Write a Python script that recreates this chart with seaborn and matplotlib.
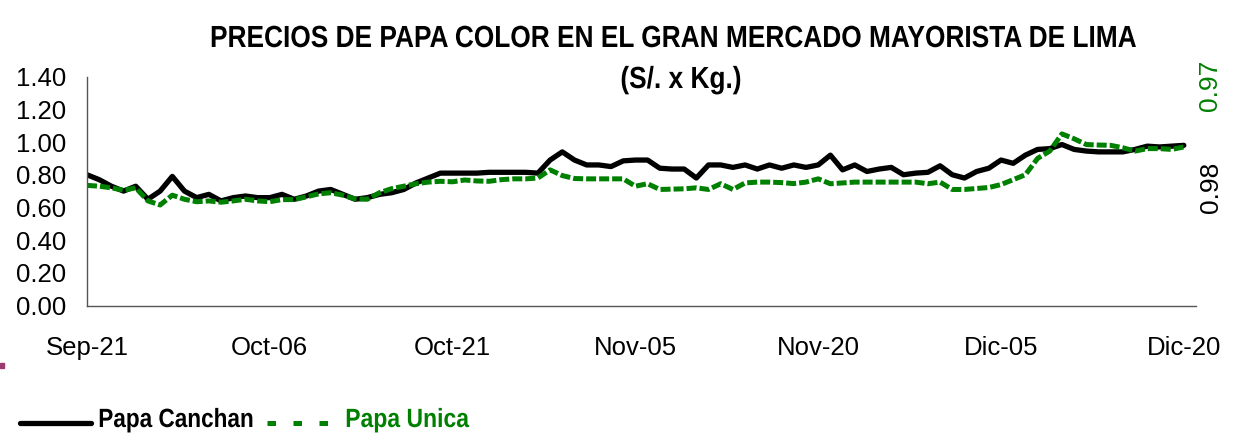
import numpy as np
import pandas as pd
import matplotlib
matplotlib.use("Agg")
import matplotlib.pyplot as plt
from matplotlib.lines import Line2D
from matplotlib.patches import Rectangle
from matplotlib.patheffects import AbstractPathEffect
from matplotlib.transforms import Affine2D
import seaborn as sns

# ---------------- data ----------------
days = list(range(91))  # Sep-21 .. Dic-20
canchan = [0.80, 0.77, 0.73, 0.70, 0.73, 0.65, 0.70, 0.79, 0.70, 0.66,
           0.68, 0.64, 0.66, 0.67, 0.66, 0.66, 0.68, 0.65, 0.67, 0.70,
           0.71, 0.68, 0.65, 0.66, 0.68, 0.69, 0.71, 0.75, 0.78, 0.81,
           0.81, 0.81, 0.81, 0.815, 0.815, 0.815, 0.815, 0.81, 0.89, 0.94,
           0.89, 0.86, 0.86, 0.85, 0.885, 0.89, 0.89, 0.84, 0.835, 0.835,
           0.78, 0.86, 0.86, 0.845, 0.86, 0.835, 0.86, 0.84, 0.86, 0.845,
           0.86, 0.92, 0.83, 0.86, 0.82, 0.835, 0.845, 0.80, 0.81, 0.815,
           0.855, 0.80, 0.78, 0.82, 0.84, 0.89, 0.87, 0.92, 0.955, 0.96,
           0.985, 0.955, 0.945, 0.94, 0.94, 0.94, 0.955, 0.975, 0.97, 0.975,
           0.98]
unica = [0.735, 0.73, 0.72, 0.705, 0.72, 0.64, 0.615, 0.675, 0.65, 0.635,
         0.64, 0.632, 0.64, 0.65, 0.64, 0.635, 0.648, 0.648, 0.665, 0.683,
         0.69, 0.675, 0.652, 0.65, 0.69, 0.715, 0.73, 0.745, 0.755, 0.76,
         0.757, 0.768, 0.762, 0.76, 0.77, 0.775, 0.775, 0.78, 0.83, 0.795,
         0.777, 0.775, 0.775, 0.775, 0.775, 0.73, 0.745, 0.71, 0.712, 0.714,
         0.72, 0.71, 0.745, 0.71, 0.75, 0.755, 0.755, 0.752, 0.746, 0.755,
         0.775, 0.745, 0.75, 0.755, 0.755, 0.755, 0.755, 0.755, 0.755, 0.745,
         0.755, 0.71, 0.71, 0.716, 0.722, 0.74, 0.77, 0.80, 0.90, 0.945,
         1.05, 1.02, 0.985, 0.982, 0.98, 0.965, 0.945, 0.96, 0.96, 0.955,
         0.97]
tick_days = [0, 15, 30, 45, 60, 75, 90]
tick_labels = ["Sep-21", "Oct-06", "Oct-21", "Nov-05", "Nov-20", "Dic-05", "Dic-20"]
series_names = ["Papa Canchan", "Papa Unica"]
y_ticks = [0.0, 0.2, 0.4, 0.6, 0.8, 1.0, 1.2, 1.4]

BLACK = "#000000"
GREEN = "#008000"
W, H = 1240, 434


class Squeeze(AbstractPathEffect):
    """Horizontally condense text (emulates a narrow face)."""
    def __init__(self, sx, anchor="center"):
        super().__init__()
        self.sx = sx
        self.anchor = anchor

    def draw_path(self, renderer, gc, tpath, affine, rgbFace=None):
        ext = tpath.get_extents(affine)
        if self.anchor == "left":
            x0 = ext.x0
        elif self.anchor == "right":
            x0 = ext.x1
        else:
            x0 = 0.5 * (ext.x0 + ext.x1)
        aff = affine + Affine2D().translate(-x0, 0).scale(self.sx, 1.0).translate(x0, 0)
        renderer.draw_path(gc, tpath, aff, rgbFace)


sns.set_style("white")
plt.rcParams["font.family"] = ["Liberation Sans", "DejaVu Sans"]
plt.rcParams["text.color"] = "black"

df = pd.DataFrame({"day": days, series_names[0]: canchan, series_names[1]: unica})

fig = plt.figure(figsize=(W / 100, H / 100), dpi=100)
ax = fig.add_axes([87 / W, 1 - 305.5 / H, (1196 - 87) / W, (305.5 - 76.7) / H])

sns.lineplot(data=df, x="day", y=series_names[0], ax=ax, color=BLACK, lw=3.8,
             solid_joinstyle="round", solid_capstyle="round")
sns.lineplot(data=df, x="day", y=series_names[1], ax=ax, color=GREEN, lw=3.6,
             dashes=False, linestyle=(0, (2.0, 0.6)))

ax.set_xlim(0, 91)
ax.set_ylim(0, 1.40)
ax.set_xticks(tick_days)
ax.set_xticklabels(tick_labels)
ax.set_yticks(y_ticks)
ax.set_yticklabels([f"{v:.2f}" for v in y_ticks])
ax.set_xlabel("")
ax.set_ylabel("")
for s in ["top", "right"]:
    ax.spines[s].set_visible(False)
for s in ["left", "bottom"]:
    ax.spines[s].set_color("#555555")
    ax.spines[s].set_linewidth(1.0)
ax.tick_params(axis="both", direction="out", length=7, width=1.0, color="#555555",
               labelsize=18.5, labelcolor="black")
ax.tick_params(axis="x", pad=15)
ax.tick_params(axis="y", pad=8)

# title
fig.text(671.5 / W, 1 - 39 / H, "PRECIOS DE PAPA COLOR EN EL GRAN MERCADO MAYORISTA DE LIMA",
         ha="center", va="center", fontsize=22, fontweight="bold", color=BLACK,
         path_effects=[Squeeze(0.86, "center")])
fig.text(681 / W, 1 - 80 / H, "(S/. x Kg.)", ha="center", va="center", fontsize=22,
         fontweight="bold", color=BLACK, path_effects=[Squeeze(0.86, "center")])

# end value labels (rotated)
fig.text(1210 / W, 1 - 85 / H, f"{unica[-1]:.2f}", rotation=90, ha="center", va="center",
         fontsize=19, color=GREEN)
fig.text(1211 / W, 1 - 187 / H, f"{canchan[-1]:.2f}", rotation=90, ha="center", va="center",
         fontsize=19, color=BLACK)

# legend (drawn manually so the condensed labels sit like the reference)
fig.add_artist(Line2D([20 / W, 91 / W], [1 - 423 / H, 1 - 423 / H], transform=fig.transFigure,
                      color=BLACK, lw=3.8, solid_capstyle="round"))
fig.text(98 / W, 1 - 420 / H, series_names[0], ha="left", va="center", fontsize=19,
         fontweight="bold", color=BLACK, path_effects=[Squeeze(0.855, "left")])
fig.add_artist(Line2D([267 / W, 329 / W], [1 - 423 / H, 1 - 423 / H], transform=fig.transFigure,
                      color=GREEN, lw=3.6, dashes=(1.7, 3.5), solid_capstyle="butt"))
fig.text(345 / W, 1 - 420 / H, series_names[1], ha="left", va="center", fontsize=19,
         fontweight="bold", color=GREEN, path_effects=[Squeeze(0.87, "left")])

# small stray marker at left edge
fig.patches.append(Rectangle((0.0, 1 - 368 / H), 4 / W, 5 / H,
                             transform=fig.transFigure, color="#9b3a6e", figure=fig))

fig.savefig("out.png", dpi=100, facecolor="white")
